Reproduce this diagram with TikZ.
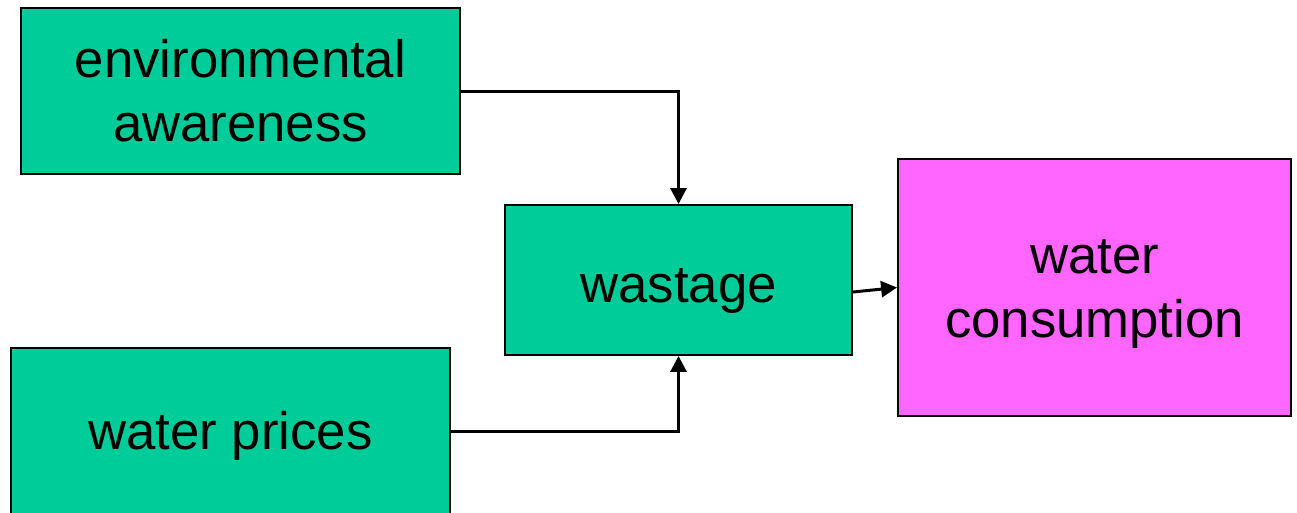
\documentclass[tikz,border=0pt]{standalone}
\usepackage{fontspec}
\setmainfont{Liberation Sans}
\usetikzlibrary{arrows.meta}
\definecolor{boxgreen}{HTML}{00CC99}
\definecolor{boxpink}{HTML}{FF66FF}
% fixed line box so every line is centred by its full ascent and descent
\newcommand{\linebox}{\rule[-0.212em]{0pt}{1.117em}}
% a slightly taller line box that sets a single line a little lower
\newcommand{\lowlinebox}{\rule[-0.212em]{0pt}{\dimexpr1.117em+0.16cm\relax}}
\tikzset{
  block/.style={draw=black, line width=1.1pt, align=center, inner sep=0pt,
    font=\fontsize{30}{36.5}\selectfont},
  greenbox/.style={block, fill=boxgreen},
  pinkbox/.style={block, fill=boxpink},
  link/.style={draw=black, line width=1.7pt,
    -{Triangle[length=0.32cm, width=0.32cm]}},
}
\begin{document}
\begin{tikzpicture}[x=0.02cm, y=-0.02cm]
  \useasboundingbox (0,0) rectangle (1297,512);
  \clip (0,0) rectangle (1297,512);
  \node[greenbox, minimum width=8.78cm, minimum height=3.32cm] (env) at (240.5,91)
    {\linebox environmental\\\linebox awareness};
  \node[greenbox, minimum width=8.78cm, minimum height=3.32cm] (prices) at (230.5,431)
    {\linebox water prices};
  \node[greenbox, minimum width=6.94cm, minimum height=3cm] (waste) at (678.5,280)
    {\lowlinebox wastage};
  \node[pinkbox, minimum width=7.86cm, minimum height=5.14cm] (cons) at (1094.5,287.5)
    {\linebox water\\\linebox consumption};
  \draw[link] (env.east) -| (waste.north);
  \draw[link] (prices.east) -| (waste.south);
  \draw[link] ([yshift=-0.24cm]waste.east) -- (cons.west);
\end{tikzpicture}
\end{document}
